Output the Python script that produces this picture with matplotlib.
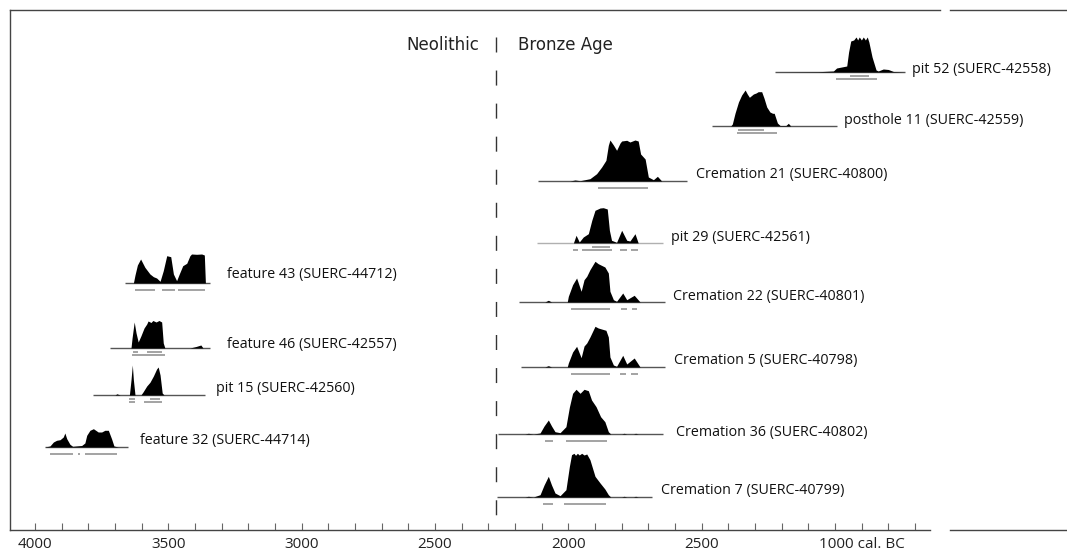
import matplotlib
matplotlib.use("Agg")
import matplotlib.pyplot as plt
from matplotlib.transforms import ScaledTranslation
from matplotlib import font_manager

# ---------------- data (years cal BC, relative probability heights) ----------------
labels = ["pit 52 (SUERC-42558)", "posthole 11 (SUERC-42559)", "Cremation 21 (SUERC-40800)",
          "pit 29 (SUERC-42561)", "Cremation 22 (SUERC-40801)", "Cremation 5 (SUERC-40798)",
          "Cremation 36 (SUERC-40802)", "Cremation 7 (SUERC-40799)", "feature 43 (SUERC-44712)",
          "feature 46 (SUERC-42557)", "pit 15 (SUERC-42560)", "feature 32 (SUERC-44714)"]

pit52_yr = [1225, 1063, 1006, 994, 975, 956, 949, 941, 930, 921, 915, 909, 901, 894, 886, 879,
            873, 861, 846, 838, 819, 800, 781, 738]
pit52_p = [0, 0.3, 1, 4, 5, 6, 20, 31, 32, 35, 32, 35, 32, 35, 32, 35, 30, 15, 2, 1, 3, 2.5, 0.5, 0]
pit52_r68 = [(944, 871)]
pit52_r95 = [(997, 841)]

post11_yr = [1462, 1391, 1385, 1375, 1362, 1350, 1337, 1329, 1321, 1306, 1296, 1288, 1275, 1266,
             1256, 1244, 1234, 1228, 1216, 1206, 1184, 1175, 1166, 994]
post11_p = [0, 0, 2, 12.7, 24, 31, 36, 32, 28.7, 32, 33, 34.3, 34.3, 27.7, 19, 14, 12.7, 12.7, 3,
            0.5, 0.5, 2.7, 0, 0]
post11_r68 = [(1362, 1265)]
post11_r95 = [(1369, 1219)]

crem21_yr = [2112, 1994, 1975, 1956, 1919, 1894, 1875, 1859, 1850, 1844, 1831, 1819, 1806, 1800,
             1781, 1769, 1750, 1738, 1729, 1712, 1700, 1681, 1666, 1650, 1556]
crem21_p = [0, 0, 1, 0.3, 2.3, 7.3, 14, 20.7, 35.7, 41, 36, 30.7, 38, 40, 40.7, 39, 41, 40, 27,
            22, 4, 1.3, 4.7, 0, 0]
crem21_r68 = []
crem21_r95 = [(1890, 1700)]

pit29_yr = [2119, 1981, 1971, 1959, 1944, 1925, 1912, 1900, 1881, 1869, 1854, 1846, 1838, 1819,
            1800, 1781, 1769, 1750, 1738, 1644]
pit29_p = [0, 0, 7.7, 1, 6, 9.3, 22.7, 32.7, 35, 35.3, 34, 12.7, 2.7, 0.7, 12.7, 2.7, 2, 9.3, 0, 0]
pit29_r68 = [(1912, 1844)]
pit29_r95 = [(1981, 1963), (1950, 1837), (1806, 1779), (1765, 1738)]

crem22_yr = [2184, 2088, 2075, 2063, 2004, 2000, 1984, 1969, 1952, 1941, 1931, 1919, 1900, 1888,
             1863, 1850, 1844, 1831, 1819, 1796, 1781, 1753, 1731, 1638]
crem22_p = [0, 0, 1.7, 0, 0, 5.7, 17.3, 24, 10.7, 22.3, 25.7, 32.3, 40.7, 38.3, 35, 29, 10.7, 2.3,
            0.7, 9, 2.3, 6.7, 0, 0]
crem22_r68 = []
crem22_r95 = [(1991, 1844), (1804, 1781), (1763, 1744)]

crem5_yr = [2179, 2088, 2075, 2063, 2004, 2000, 1984, 1969, 1952, 1941, 1931, 1919, 1900, 1888,
            1859, 1850, 1844, 1831, 1819, 1796, 1781, 1753, 1731, 1638]
crem5_p = [0, 0, 1.3, 0, 0, 4, 15, 20.7, 9.3, 21, 24, 30, 40.7, 39, 36.7, 30, 10, 2, 0.7, 11.7, 3,
           9, 0, 0]
crem5_r68 = []
crem5_r95 = [(1991, 1844), (1806, 1783), (1766, 1738)]

crem36_yr = [2263, 2163, 2150, 2131, 2106, 2091, 2075, 2063, 2050, 2031, 2009, 1996, 1984, 1971,
             1956, 1941, 1925, 1913, 1896, 1879, 1863, 1850, 1841, 1800, 1791, 1781, 1756, 1748,
             1738, 1646]
crem36_p = [0, 0, 0.7, 0, 1, 8, 14, 8, 2.3, 1.3, 7.3, 27, 40.7, 44.7, 40.7, 44.7, 43.3, 34, 27.3,
            17.3, 12.3, 2.3, 0, 0, 0.7, 0, 0, 0.7, 0, 0]
crem36_r68 = []
crem36_r95 = [(2088, 2059), (2009, 1856)]

crem7_yr = [2266, 2163, 2150, 2131, 2106, 2091, 2075, 2063, 2050, 2031, 2009, 1996, 1988, 1979,
            1973, 1966, 1959, 1950, 1941, 1931, 1919, 1900, 1881, 1863, 1850, 1841, 1800, 1791,
            1781, 1756, 1748, 1738, 1688]
crem7_p = [0, 0, 0.7, 0, 2.3, 12, 20.7, 12, 4, 1.3, 7.3, 30.7, 42.3, 43.7, 41.7, 43.7, 42, 43.7,
           42, 43, 37.3, 20.7, 14, 8, 2.3, 0, 0, 0.7, 0, 0, 0.7, 0, 0]
crem7_r68 = []
crem7_r95 = [(2096, 2059), (2016, 1859)]

feat43_yr = [3663, 3631, 3625, 3616, 3604, 3588, 3569, 3556, 3544, 3531, 3519, 3506, 3491, 3481,
             3469, 3459, 3446, 3431, 3419, 3413, 3394, 3375, 3365, 3361, 3344]
feat43_p = [0, 0, 8, 18, 24, 15.7, 9, 6.3, 5, 1.7, 12.3, 27.3, 26.3, 9, 2.3, 9, 17.3, 19.7, 27.3,
            29, 28.7, 29, 28, 0, 0]
feat43_r68 = []
feat43_r95 = [(3625, 3550), (3525, 3475), (3463, 3363)]

feat46_yr = [3719, 3640, 3636, 3628, 3621, 3613, 3603, 3591, 3581, 3576, 3565, 3558, 3546, 3535,
             3525, 3519, 3513, 3419, 3396, 3378, 3370, 3344]
feat46_p = [0, 0, 10, 26, 15, 6, 12, 20, 24, 27, 25.5, 27.5, 26, 27.5, 26, 5, 0, 0, 1.5, 3, 0, 0]
feat46_r68 = [(3631, 3613), (3581, 3525)]
feat46_r95 = [(3637, 3513)]

pit15_yr = [3783, 3700, 3693, 3681, 3646, 3640, 3635, 3631, 3625, 3603, 3595, 3581, 3569, 3556,
            3544, 3538, 3531, 3523, 3516, 3363]
pit15_p = [0, 0, 1.2, 0, 0, 15, 30, 15, 0, 0, 3, 9, 12.7, 19, 26, 28, 20, 2, 0, 0]
pit15_r68 = [(3646, 3625), (3569, 3531)]
pit15_r95 = [(3646, 3625), (3590, 3525)]

feat32_yr = [3963, 3944, 3931, 3919, 3906, 3894, 3888, 3881, 3869, 3859, 3825, 3813, 3806, 3794,
             3781, 3763, 3750, 3738, 3725, 3713, 3704, 3688, 3650]
feat32_p = [0, 1, 5, 6.7, 7.3, 10, 14, 8.3, 2.7, 0.7, 1.5, 4, 11.7, 16.7, 18.3, 15, 15, 16.7,
            16.7, 8.3, 1, 0, 0]
feat32_r68 = []
feat32_r95 = [(3944, 3856), (3838, 3832), (3813, 3694)]

series_yr = [pit52_yr, post11_yr, crem21_yr, pit29_yr, crem22_yr, crem5_yr, crem36_yr, crem7_yr,
             feat43_yr, feat46_yr, pit15_yr, feat32_yr]
series_p = [pit52_p, post11_p, crem21_p, pit29_p, crem22_p, crem5_p, crem36_p, crem7_p,
            feat43_p, feat46_p, pit15_p, feat32_p]
ranges68 = [pit52_r68, post11_r68, crem21_r68, pit29_r68, crem22_r68, crem5_r68, crem36_r68,
            crem7_r68, feat43_r68, feat46_r68, pit15_r68, feat32_r68]
ranges95 = [pit52_r95, post11_r95, crem21_r95, pit29_r95, crem22_r95, crem5_r95, crem36_r95,
            crem7_r95, feat43_r95, feat46_r95, pit15_r95, feat32_r95]

tick_years = [4000, 3500, 3000, 2500, 2000, 1500, 1000]
tick_labels = ["4000", "3500", "3000", "2500", "2000", "2500", "1000 cal. BC"]
period_boundary = 2271
period_labels = ["Neolithic", "Bronze Age"]

# ---------------- layout (pixel rows) ----------------
row_base = [72, 126, 181, 243, 302, 367, 434, 497, 283, 348, 395, 447]
label_gap = [7, 7, 9, 8, 8, 9, 13, 9, 17, 17, 11, 12]
label_up = [2, 5, 6, 5, 5, 6, 1, 6, 8, 3, 6, 6]
baseline_col = ["#555555"] * 12
baseline_col[3] = "#b0b0b0"

installed = {f.name for f in font_manager.fontManager.ttflist}
tick_font = "Liberation Sans Narrow" if "Liberation Sans Narrow" in installed else "Open Sans"

W, H = 1067, 552
fig = plt.figure(figsize=(W / 100, H / 100), dpi=100)
ax = fig.add_axes([10 / W, 22 / H, (W - 10) / W, 520 / H])
yr_per_px = 3.75
ax.set_xlim(4000 + 25 * yr_per_px, 4000 - 1032 * yr_per_px)
ax.set_ylim(530, 10)

label_font = ["Open Sans", "DejaVu Sans"]
for i in range(len(labels)):
    yr, p, b = series_yr[i], series_p[i], row_base[i]
    ax.plot([yr[0], yr[-1]], [b, b], color=baseline_col[i], lw=1.0, solid_capstyle="butt", zorder=2)
    ax.fill_between(yr, [b - v for v in p], [b] * len(p), color="black", lw=0, zorder=3)
    for (a, c) in ranges68[i]:
        ax.plot([a, c], [b + 4, b + 4], color="#8a8a8a", lw=1.1, solid_capstyle="butt")
    for (a, c) in ranges95[i]:
        ax.plot([a, c], [b + 7, b + 7], color="#8a8a8a", lw=1.1, solid_capstyle="butt")
    ax.annotate(labels[i], xy=(yr[-1], b), xytext=(label_gap[i], label_up[i]),
                textcoords="offset pixels", ha="left", va="center", fontsize=10.3,
                family=label_font, color="#111111")

# period boundary
ax.plot([period_boundary, period_boundary], [37, 530], color="#333333", lw=1.0,
        dashes=(10.8, 13), zorder=1)
ax.annotate(period_labels[0], xy=(period_boundary, 45), xytext=(-17, 0), textcoords="offset pixels",
            ha="right", va="center", fontsize=12, family="DejaVu Sans", color="#222222")
ax.annotate(period_labels[1], xy=(period_boundary, 45), xytext=(22, 0), textcoords="offset pixels",
            ha="left", va="center", fontsize=12, family="DejaVu Sans", color="#222222")

# axes frame
ax.spines["right"].set_visible(False)
for s in ["left", "top", "bottom"]:
    ax.spines[s].set_color("#444444")
    ax.spines[s].set_linewidth(1.0)
x_end_bottom = 4000 - (930 - 35) * yr_per_px
x_end_top = 4000 - (940 - 35) * yr_per_px
x_restart = 4000 - (950 - 35) * yr_per_px
ax.spines["bottom"].set_bounds(ax.get_xlim()[0], x_end_bottom)
ax.spines["top"].set_bounds(ax.get_xlim()[0], x_end_top)
for yy in (10, 530):
    ax.plot([x_restart, ax.get_xlim()[1]], [yy, yy], color="#444444", lw=1.0, clip_on=False)

minor = list(range(4000, 650, -100))
ax.set_xticks(minor)
ax.set_xticklabels([tick_labels[tick_years.index(t)] if t in tick_years else "" for t in minor])
ax.tick_params(axis="x", direction="in", length=5, width=0.8, color="#666666", pad=5,
               labelsize=11, labelcolor="#222222")
for lbl in ax.get_xticklabels():
    lbl.set_family(tick_font)
last = [l for l in ax.get_xticklabels() if l.get_text().startswith("1000")][0]
last.set_ha("left")
last.set_transform(last.get_transform() + ScaledTranslation(-16 / 100, 0, fig.dpi_scale_trans))
ax.set_yticks([])

fig.savefig("out.png", dpi=100)
